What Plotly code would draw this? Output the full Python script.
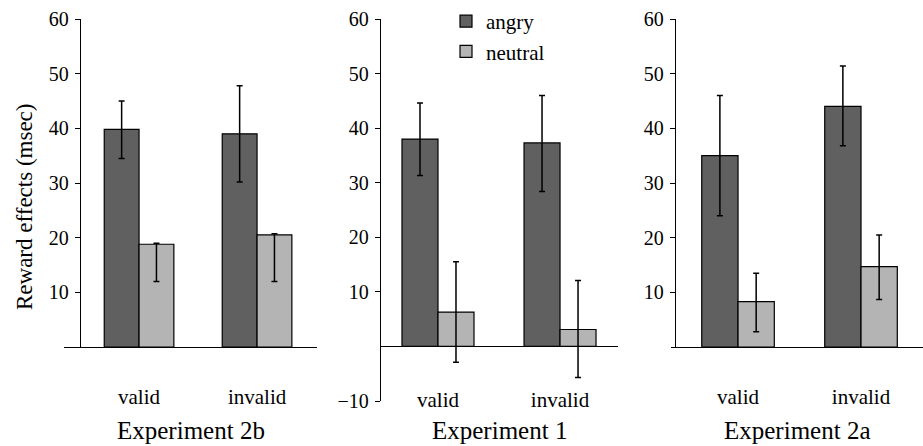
import plotly.graph_objects as go

# ---- data ----
conditions = ["valid", "invalid"]
experiments = ["Experiment 2b", "Experiment 1", "Experiment 2a"]

angry_2b = [39.8, 39.0]
angry_2b_lo = [34.5, 30.2]
angry_2b_hi = [45.0, 47.8]
neutral_2b = [18.8, 20.5]
neutral_2b_lo = [12.0, 12.0]
neutral_2b_hi = [19.0, 20.7]

angry_1 = [38.0, 37.3]
angry_1_lo = [31.3, 28.4]
angry_1_hi = [44.6, 46.0]
neutral_1 = [6.3, 3.1]
neutral_1_lo = [-2.9, -5.7]
neutral_1_hi = [15.5, 12.1]

angry_2a = [35.0, 44.0]
angry_2a_lo = [24.0, 36.8]
angry_2a_hi = [46.0, 51.4]
neutral_2a = [8.3, 14.7]
neutral_2a_lo = [2.8, 8.7]
neutral_2a_hi = [13.5, 20.5]

y_ticks_pos = [10, 20, 30, 40, 50, 60]
y_ticks_neg = [-10, 10, 20, 30, 40, 50, 60]

ANGRY = "#606060"
NEUTRAL = "#b4b4b4"
FONT = "'Liberation Serif', 'Times New Roman', 'DejaVu Serif', serif"

W, H = 923, 446


def px_x(p):
    return p / W


def px_y(p):
    return (H - p) / H


fig = go.Figure()


def add_bars(vals, lo, hi, name, color, xa, ya, show):
    fig.add_trace(go.Bar(
        x=conditions, y=vals, name=name, xaxis=xa, yaxis=ya,
        marker=dict(color=color, line=dict(color="black", width=1.2)),
        error_y=dict(type="data", symmetric=False,
                     array=[h - v for h, v in zip(hi, vals)],
                     arrayminus=[v - l for v, l in zip(vals, lo)],
                     color="black", thickness=1.5, width=3),
        showlegend=show,
    ))


add_bars(angry_2b, angry_2b_lo, angry_2b_hi, "angry", ANGRY, "x", "y", False)
add_bars(neutral_2b, neutral_2b_lo, neutral_2b_hi, "neutral", NEUTRAL, "x", "y", False)
add_bars(angry_1, angry_1_lo, angry_1_hi, "angry", ANGRY, "x2", "y2", True)
add_bars(neutral_1, neutral_1_lo, neutral_1_hi, "neutral", NEUTRAL, "x2", "y2", True)
add_bars(angry_2a, angry_2a_lo, angry_2a_hi, "angry", ANGRY, "x3", "y3", False)
add_bars(neutral_2a, neutral_2a_lo, neutral_2a_hi, "neutral", NEUTRAL, "x3", "y3", False)

tickfont = dict(family=FONT, size=20, color="black")
catfont = dict(family=FONT, size=21, color="black")

yax_common = dict(showline=True, linecolor="black", linewidth=1.3,
                  ticks="outside", ticklen=5, tickcolor="black", tickwidth=1.2,
                  showgrid=False, tickfont=tickfont, zeroline=False,
                  automargin=False, ticklabelstandoff=2)
xax_common = dict(showgrid=False, ticks="", tickfont=catfont, type="category",
                  automargin=False)

fig.update_layout(
    width=W, height=H,
    margin=dict(l=0, r=0, t=0, b=0, autoexpand=False),
    paper_bgcolor="white", plot_bgcolor="rgba(0,0,0,0)",
    barmode="group", bargap=0.41,
    font=dict(family=FONT, color="black"),
    xaxis=dict(domain=[px_x(64), px_x(317)], anchor="y", range=[-0.636, 1.508],
               showline=True, linecolor="black", linewidth=1.3,
               ticklabelstandoff=31, **xax_common),
    yaxis=dict(domain=[px_y(347), px_y(19)], anchor="free", position=px_x(80),
               range=[0, 60], tickvals=y_ticks_pos, **yax_common),
    xaxis2=dict(domain=[px_x(381), px_x(618)], anchor="y2", range=[-0.467, 1.475],
                showline=False, ticklabelstandoff=-16, **xax_common),
    yaxis2=dict(domain=[px_y(401), px_y(19)], anchor="x2",
                range=[-10, 60], tickvals=y_ticks_neg,
                **{**yax_common, "zeroline": True},
                zerolinecolor="black", zerolinewidth=1.3),
    xaxis3=dict(domain=[px_x(671), 1.0], anchor="y3", range=[-0.545, 1.504],
                showline=True, linecolor="black", linewidth=1.3,
                ticklabelstandoff=31, **xax_common),
    yaxis3=dict(domain=[px_y(347), px_y(19)], anchor="free", position=px_x(675),
                range=[0, 60], tickvals=y_ticks_pos, **yax_common),
    legend=dict(x=px_x(446), y=px_y(1), xanchor="left", yanchor="top",
                bgcolor="rgba(0,0,0,0)", font=dict(family=FONT, size=21, color="black"),
                traceorder="normal", tracegroupgap=0),
)

for xr, title in zip(["x domain", "x2 domain", "x3 domain"], experiments):
    fig.add_annotation(text=title, xref=xr, x=0.5, yref="paper", y=px_y(430),
                       xanchor="center", yanchor="middle", showarrow=False,
                       font=dict(family=FONT, size=25, color="black"))

fig.add_annotation(text="Reward effects (msec)", xref="paper", x=px_x(24),
                   yref="paper", y=px_y(207), textangle=-90, showarrow=False,
                   xanchor="center", yanchor="middle",
                   font=dict(family=FONT, size=23, color="black"))

fig.write_html("out.html", config={"displayModeBar": False},
               post_script="document.body.style.margin='0px';")
